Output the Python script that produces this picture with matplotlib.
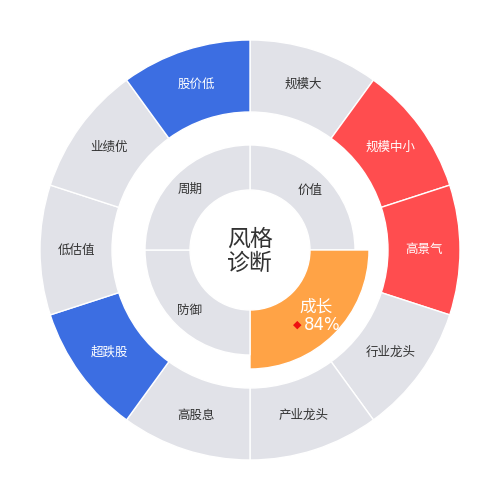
import numpy as np
import matplotlib
matplotlib.use("Agg")
import matplotlib.pyplot as plt

plt.rcParams['font.family'] = ['Noto Sans CJK SC', 'DejaVu Sans']

# Outer ring: style tags (clockwise from top)
outer_labels = ["规模大", "规模中小", "高景气", "行业龙头", "产业龙头",
                "高股息", "超跌股", "低估值", "业绩优", "股价低"]
outer_state = ["none", "hot", "hot", "none", "none",
               "none", "cold", "none", "none", "cold"]
# Inner ring: style categories (clockwise from top)
inner_labels = ["价值", "成长", "防御", "周期"]
inner_highlight = [False, True, False, False]
growth_score = 84  # percent
center_title = "风格\n诊断"

state_colors = {"none": "#e1e2e8", "hot": "#ff4d4f", "cold": "#3c6ee2"}
gray = "#e1e2e8"
orange = "#ffa346"

fig = plt.figure(figsize=(5, 5), dpi=100)
ax = fig.add_axes([0, 0, 1, 1], projection='polar')
ax.set_theta_zero_location('N')
ax.set_theta_direction(-1)
ax.set_ylim(0, 250)
ax.axis('off')

# outer ring
n = len(outer_labels)
w = 2 * np.pi / n
theta_o = np.arange(n) * w + w / 2
r_in_o, r_out_o = 138, 210
ax.bar(theta_o, r_out_o - r_in_o, width=w, bottom=r_in_o,
       color=[state_colors[s] for s in outer_state],
       edgecolor='white', linewidth=1.0, align='center')
for t, lab, s in zip(theta_o, outer_labels, outer_state):
    ax.text(t, 174, lab, ha='center', va='center', fontsize=9,
            color='white' if s != 'none' else '#333333')

# inner ring
m = len(inner_labels)
wi = 2 * np.pi / m
theta_i = np.arange(m) * wi + wi / 2
r_in_i, r_out_i, r_out_hi = 60, 105, 119
heights = [(r_out_hi if h else r_out_i) - r_in_i for h in inner_highlight]
ax.bar(theta_i, heights, width=wi, bottom=r_in_i,
       color=[orange if h else gray for h in inner_highlight],
       edgecolor='white', linewidth=1.0, align='center')
for t, lab, h in zip(theta_i, inner_labels, inner_highlight):
    if h:
        continue
    ax.text(t, 85, lab, ha='center', va='center', fontsize=9, color='#333333')

def px(x, y):
    return x / 500, 1 - y / 500

for t, lab, h in zip(theta_i, inner_labels, inner_highlight):
    if h:
        fig.text(*px(316, 307), lab, ha='center', va='center', fontsize=12, color='white')
        fig.text(*px(322, 325), f"{growth_score}%", ha='center', va='center',
                 fontsize=12, color='white', family=['DejaVu Sans'])
        fig.text(*px(297, 325), "◆", ha='center', va='center', fontsize=8,
                 color='#ee1111', family=['DejaVu Sans'])

fig.text(*px(250, 251), center_title, ha='center', va='center', fontsize=16.5,
         color='#333333', linespacing=1.05)

fig.savefig("out.png", dpi=100, facecolor='white')
